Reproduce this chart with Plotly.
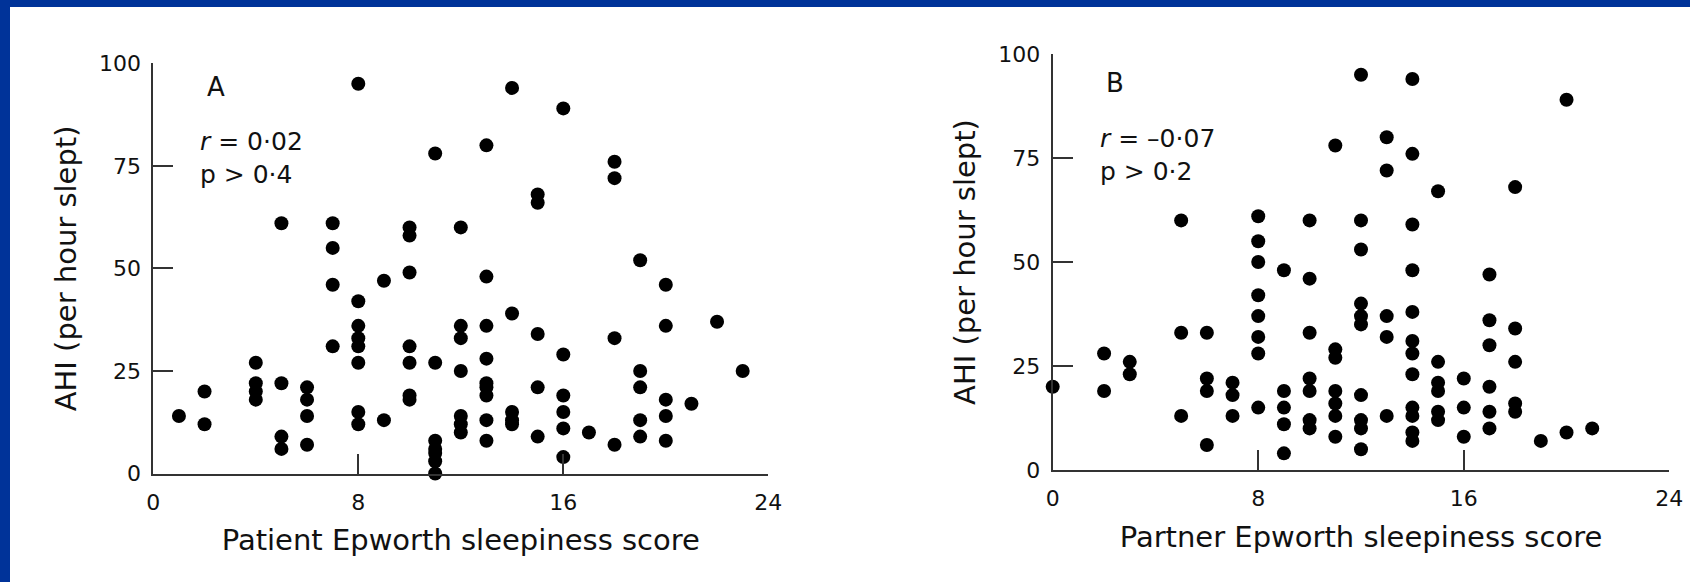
import plotly.graph_objects as go

# ---------------- data ----------------
# Panel A: patient Epworth score vs AHI
patient_x = [1,
             2, 2,
             4, 4, 4, 4,
             5, 5, 5, 5,
             6, 6, 6, 6,
             7, 7, 7, 7,
             8, 8, 8, 8, 8, 8, 8, 8,
             9, 9,
             10, 10, 10, 10, 10, 10, 10,
             11, 11, 11, 11, 11, 11, 11,
             12, 12, 12, 12, 12, 12, 12,
             13, 13, 13, 13, 13, 13, 13, 13, 13,
             14, 14, 14, 14, 14,
             15, 15, 15, 15, 15,
             16, 16, 16, 16, 16, 16,
             17,
             18, 18, 18, 18,
             19, 19, 19, 19, 19,
             20, 20, 20, 20, 20,
             21, 22, 23]
patient_ahi = [14,
               20, 12,
               27, 22, 20, 18,
               61, 22, 9, 6,
               21, 18, 14, 7,
               61, 55, 46, 31,
               95, 42, 36, 33, 31, 27, 15, 12,
               47, 13,
               60, 58, 49, 31, 27, 19, 18,
               78, 27, 8, 6, 5, 3, 0,
               60, 36, 33, 25, 14, 12, 10,
               80, 48, 36, 28, 22, 21, 19, 13, 8,
               94, 39, 15, 13, 12,
               68, 66, 34, 21, 9,
               89, 29, 19, 15, 11, 4,
               10,
               76, 72, 33, 7,
               52, 25, 21, 13, 9,
               46, 36, 18, 14, 8,
               17, 37, 25]

# Panel B: partner Epworth score vs AHI
partner_x = [0,
             2, 2,
             3, 3,
             5, 5, 5,
             6, 6, 6, 6,
             7, 7, 7,
             8, 8, 8, 8, 8, 8, 8, 8,
             9, 9, 9, 9, 9,
             10, 10, 10, 10, 10, 10, 10,
             11, 11, 11, 11, 11, 11, 11,
             12, 12, 12, 12, 12, 12, 12, 12, 12, 12,
             13, 13, 13, 13, 13,
             14, 14, 14, 14, 14, 14, 14, 14, 14, 14, 14, 14,
             15, 15, 15, 15, 15, 15,
             16, 16, 16,
             17, 17, 17, 17, 17, 17,
             18, 18, 18, 18, 18,
             19,
             20, 20,
             21]
partner_ahi = [20,
               28, 19,
               26, 23,
               60, 33, 13,
               33, 22, 19, 6,
               21, 18, 13,
               61, 55, 50, 42, 37, 32, 28, 15,
               48, 19, 15, 11, 4,
               60, 46, 33, 22, 19, 12, 10,
               78, 29, 27, 19, 16, 13, 8,
               95, 60, 53, 40, 37, 35, 18, 12, 10, 5,
               80, 72, 37, 32, 13,
               94, 76, 59, 48, 38, 31, 28, 23, 15, 13, 9, 7,
               67, 26, 21, 19, 14, 12,
               22, 15, 8,
               47, 36, 30, 20, 14, 10,
               68, 34, 26, 16, 14,
               7,
               89, 9,
               10]

x_ticks = [0, 8, 16, 24]
y_ticks = [0, 25, 50, 75, 100]
x_titles = ["Patient Epworth sleepiness score", "Partner Epworth sleepiness score"]
y_title = "AHI (per hour slept)"
panel_labels = ["A", "B"]
stats_text = ["<i>r</i> = 0·02<br>p > 0·4", "<i>r</i> = \u20130·07<br>p > 0·2"]

# ---------------- figure ----------------
W, H = 1690, 582
FONT = "DejaVu Sans"
INK = "#111111"

fig = go.Figure()
fig.add_trace(go.Scatter(x=patient_x, y=patient_ahi, mode="markers",
                         marker=dict(size=14, color="black"),
                         cliponaxis=False, xaxis="x", yaxis="y", showlegend=False))
fig.add_trace(go.Scatter(x=partner_x, y=partner_ahi, mode="markers",
                         marker=dict(size=14, color="black"),
                         cliponaxis=False, xaxis="x2", yaxis="y2", showlegend=False))

def px_x(p):
    return p / W

def px_y(p):
    return 1 - p / H

common_x = dict(range=[0, 24], tickvals=x_ticks, ticks="inside", ticklen=20, tickwidth=2,
                tickcolor="#333", showline=True, linecolor="#333", linewidth=2,
                showgrid=False, zeroline=False, ticklabelstandoff=8, automargin=False,
                tickfont=dict(family=FONT, size=22, color=INK))
common_y = dict(range=[0, 100], tickvals=y_ticks, ticks="inside", ticklen=20, tickwidth=2,
                tickcolor="#333", showline=True, linecolor="#333", linewidth=2,
                showgrid=False, zeroline=False, ticklabelstandoff=6, automargin=False,
                tickfont=dict(family=FONT, size=22, color=INK))

fig.update_layout(
    width=W, height=H, autosize=False, showlegend=False,
    margin=dict(l=0, r=0, t=0, b=0, pad=0, autoexpand=False),
    paper_bgcolor="white", plot_bgcolor="white",
    xaxis=dict(common_x, domain=[px_x(153.3), px_x(768.3)], anchor="y",
               title=dict(text=x_titles[0], standoff=16,
                          font=dict(family=FONT, size=29, color=INK))),
    yaxis=dict(common_y, domain=[px_y(473.5), px_y(63.3)], anchor="x",
               title=dict(text=y_title, standoff=14,
                          font=dict(family=FONT, size=29, color=INK))),
    xaxis2=dict(common_x, domain=[px_x(1052.7), px_x(1669.3)], anchor="y2",
                title=dict(text=x_titles[1], standoff=16,
                           font=dict(family=FONT, size=29, color=INK))),
    yaxis2=dict(common_y, domain=[px_y(470), px_y(54)], anchor="x2",
                title=dict(text=y_title, standoff=14,
                           font=dict(family=FONT, size=29, color=INK))),
    shapes=[
        dict(type="rect", xref="paper", yref="paper", x0=0, x1=1, y0=1 - 7 / H, y1=1,
             fillcolor="#003399", line=dict(width=0), layer="below"),
        dict(type="rect", xref="paper", yref="paper", x0=0, x1=10 / W, y0=0, y1=1,
             fillcolor="#003399", line=dict(width=0), layer="below"),
    ],
)

annots = [
    dict(x=2.44, y=94.3, xref="x", yref="y", text=panel_labels[0]),
    dict(x=2.43, y=93.0, xref="x2", yref="y2", text=panel_labels[1]),
]
for a in annots:
    fig.add_annotation(**a, showarrow=False, xanchor="center", yanchor="middle",
                       font=dict(family=FONT, size=26, color=INK))
fig.add_annotation(x=1.76, y=77, xref="x", yref="y", text=stats_text[0], showarrow=False,
                   xanchor="left", yanchor="middle", align="left",
                   font=dict(family=FONT, size=25, color=INK))
fig.add_annotation(x=1.78, y=75.7, xref="x2", yref="y2", text=stats_text[1], showarrow=False,
                   xanchor="left", yanchor="middle", align="left",
                   font=dict(family=FONT, size=25, color=INK))

fig.write_html("out.html",
               config={"displayModeBar": False, "staticPlot": True},
               post_script="document.body.style.margin='0';document.body.style.overflow='hidden';")
